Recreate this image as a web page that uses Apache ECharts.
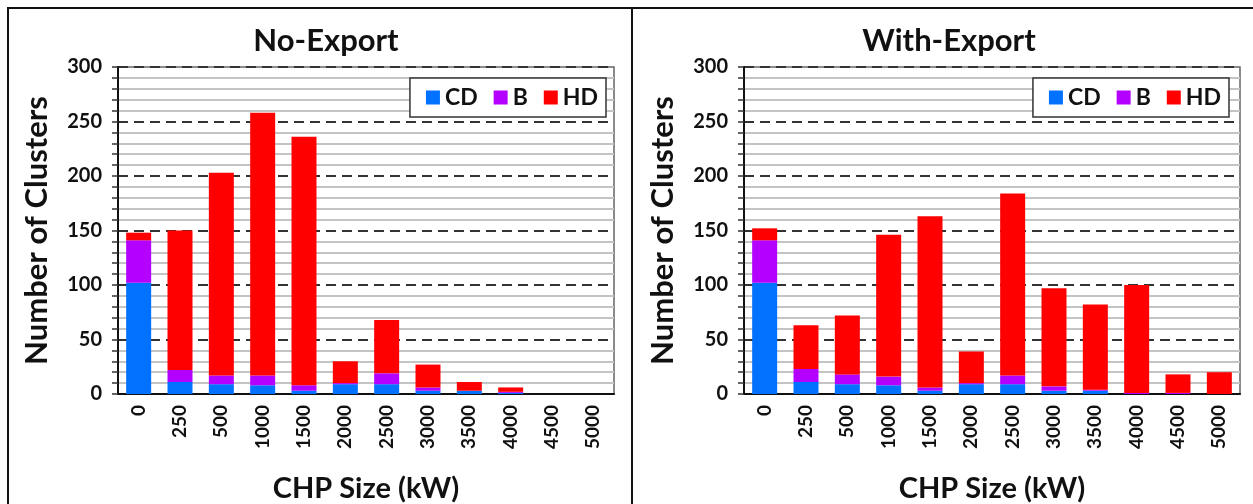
<!DOCTYPE html>
<html>
<head>
<meta charset="utf-8">
<script src="https://cdn.jsdelivr.net/npm/echarts@6/dist/echarts.min.js"></script>
<style>
  html, body { margin: 0; padding: 0; background: #fff; }
  #chart { width: 1253px; height: 504px; }
</style>
</head>
<body>
<div id="chart"></div>
<script>
// CHP sizes on the x axis
const sizes = ["0", "250", "500", "1000", "1500", "2000", "2500", "3000", "3500", "4000", "4500", "5000"];

// No-Export panel
const noExpCD = [102, 11, 9, 8, 3, 9, 9, 3, 3, 1, 0, 0];
const noExpB  = [39, 11, 8, 9, 5, 1, 10, 3, 0, 1, 0, 0];
const noExpHD = [7, 128, 186, 241, 228, 20, 49, 21, 8, 4, 0, 0];

// With-Export panel
const withExpCD = [102, 11, 9, 8, 3, 9, 9, 3, 3, 0, 0, 0];
const withExpB  = [39, 12, 9, 8, 3, 1, 8, 4, 1, 1, 1, 0];
const withExpHD = [11, 40, 54, 130, 157, 29, 167, 90, 78, 99, 17, 20];

const titles = ["No-Export", "With-Export"];
const seriesNames = ["CD", "B", "HD"];
const colors = ["#0072ff", "#b400ff", "#ff0000"];

const FONT = "Lato";

var myChart = echarts.init(document.getElementById("chart"));

const gridLeft = [118, 744];
const panelCenter = [321, 944];

function makeYAxis(i) {
  return {
    type: "value",
    gridIndex: i,
    min: 0,
    max: 300,
    interval: 50,
    name: "Number of Clusters",
    nameLocation: "middle",
    nameGap: 66,
    nameTextStyle: { fontFamily: FONT, fontWeight: "bold", fontSize: 31, color: "#111" },
    axisLine: { show: true, lineStyle: { color: "#111", width: 2 } },
    axisTick: { show: true, length: 6, lineStyle: { color: "#333", width: 1.5 } },
    minorTick: { show: true, splitNumber: 5, length: 6, lineStyle: { color: "#333", width: 1.5 } },
    axisLabel: { fontFamily: FONT, fontWeight: "bold", fontSize: 20, color: "#111", margin: 16 },
    splitLine: { show: true, lineStyle: { color: "#333", width: 2, type: [10, 6] } },
    minorSplitLine: { show: true, lineStyle: { color: "#c4c4c4", width: 2 } }
  };
}

function makeXAxis(i) {
  return {
    type: "category",
    gridIndex: i,
    data: sizes,
    name: "CHP Size (kW)",
    nameLocation: "middle",
    nameGap: 80,
    nameTextStyle: { fontFamily: FONT, fontWeight: "bold", fontSize: 29, color: "#111" },
    axisLine: { show: true, lineStyle: { color: "#111", width: 2 } },
    axisTick: { show: false },
    axisLabel: { rotate: 90, interval: 0, fontFamily: FONT, fontWeight: "bold", fontSize: 19, color: "#111", margin: 11 }
  };
}

function makeSeries(i, data) {
  return data.map(function (vals, k) {
    return {
      name: seriesNames[k],
      type: "bar",
      stack: "s" + i,
      xAxisIndex: i,
      yAxisIndex: i,
      barWidth: 25,
      data: vals,
      itemStyle: { color: colors[k] }
    };
  });
}

var option = {
  animation: false,
  backgroundColor: "#fff",
  color: colors,
  title: titles.map(function (t, i) {
    return {
      text: t,
      left: panelCenter[i],
      textAlign: "center",
      top: 20,
      textStyle: { fontFamily: FONT, fontWeight: "bold", fontSize: 31, color: "#111" }
    };
  }),
  legend: [0, 1].map(function (i) {
    return {
      data: seriesNames,
      right: i === 0 ? 647 : 24,
      top: 78,
      orient: "horizontal",
      itemWidth: 14,
      itemHeight: 14,
      itemGap: 16,
      padding: [8, 8, 8, 16],
      borderColor: "#333",
      borderWidth: 1.5,
      backgroundColor: "#fff",
      icon: "rect",
      textStyle: { fontFamily: FONT, fontWeight: "bold", fontSize: 23, color: "#111" }
    };
  }),
  grid: gridLeft.map(function (l) {
    return {
      left: l, width: 496, top: 67, height: 327,
      outerBoundsMode: "none",
      show: true, borderColor: "#666", borderWidth: 1.5, backgroundColor: "transparent"
    };
  }),
  xAxis: [makeXAxis(0), makeXAxis(1)],
  yAxis: [makeYAxis(0), makeYAxis(1)],
  series: makeSeries(0, [noExpCD, noExpB, noExpHD]).concat(makeSeries(1, [withExpCD, withExpB, withExpHD])),
  graphic: [
    { type: "line", shape: { x1: 7, y1: 8, x2: 1253, y2: 8 }, style: { stroke: "#111", lineWidth: 2 } },
    { type: "line", shape: { x1: 8, y1: 7, x2: 8, y2: 504 }, style: { stroke: "#111", lineWidth: 2 } },
    { type: "line", shape: { x1: 632, y1: 7, x2: 632, y2: 504 }, style: { stroke: "#111", lineWidth: 2 } }
  ]
};

myChart.setOption(option);
</script>
</body>
</html>
